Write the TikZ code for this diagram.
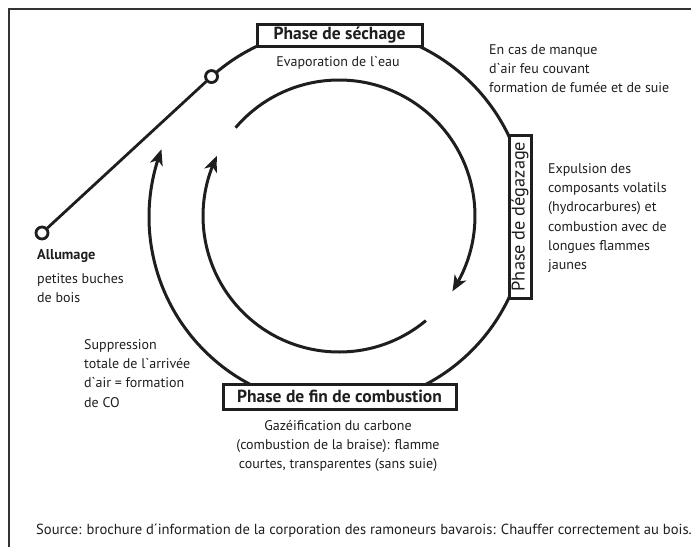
\documentclass[tikz,border=0pt]{standalone}
\usepackage{fontspec}
\setmainfont{PT Sans}
\usetikzlibrary{arrows.meta,bending}
\definecolor{inkc}{HTML}{1E1E1E}
\definecolor{framec}{HTML}{333333}
\begin{document}
\begin{tikzpicture}[x=1pt,y=-1pt,
  ink/.style={draw=inkc, line width=3pt},
  phase/.style={draw=inkc, line width=3pt, fill=white, font=\fontsize{17.5}{20}\selectfont\bfseries, inner sep=0pt, text=inkc},
  body/.style={font=\fontsize{14}{19.3}\selectfont, inner sep=0pt, text=inkc, align=left},
  dot/.style={circle, draw=inkc, line width=2.8pt, fill=white, minimum size=12pt, inner sep=0pt},
  tip/.style={-{Stealth[length=16pt,width=13pt,inset=4.5pt,bend]}}
]
\useasboundingbox (0,0) rectangle (691,547);
\draw[draw=framec, line width=2.5pt] (9,547) -- (9,9) -- (691,9);
\coordinate (C) at (338,217);
\coordinate (Ci) at (339,216);
% outer cycle
\draw[ink, tip] ([shift={(228:189)}]C) arc[start angle=228, end angle=561, radius=189];
% inner cycle
\draw[ink, tip] ([shift={(220.5:136)}]Ci) arc[start angle=220.5, end angle=393.6, radius=136];
\draw[ink, tip] ([shift={(50.3:136)}]Ci) arc[start angle=50.3, end angle=206.2, radius=136];
% ignition line
\node[dot] (sc) at ([shift={(228:189)}]C) {};
\node[dot] (al) at (42,233) {};
\draw[ink, line width=2.8pt] (al) -- (sc);
% phase boxes
\node[phase, minimum width=165pt, minimum height=22pt] (seche) at (339.5,35) {Phase de séchage};
\node[phase, font=\fontsize{18.3}{20}\selectfont, rotate=90, minimum width=163pt, minimum height=22pt] (degaz) at (520,216.5) {Phase de dégazage};
\node[phase, minimum width=233pt, minimum height=25pt] (fin) at (339.5,396.5) {Phase de fin de combustion};
% texts
\node[body] (evap) at (338,63) {Evaporation de l\textasciigrave eau};
\node[body, anchor=north west] (manque) at (489,44) {En cas de manque\\d\textasciigrave air feu couvant\\formation de fumée et de suie};
\node[body, anchor=north west] (expul) at (548,163) {Expulsion des\\composants volatils\\(hydrocarbures) et\\combustion avec de\\longues flammes\\jaunes};
\node[body, font=\fontsize{14.3}{19}\selectfont\bfseries, anchor=west] (allu) at (37,256) {Allumage};
\node[body, anchor=north west] (bois) at (37,273) {petites buches\\de bois};
\node[body, anchor=north west] (suppr) at (84,339) {Suppression\\totale de l\textasciigrave arrivée\\d\textasciigrave air = formation\\de CO};
\node[body, align=center, anchor=north] (gaz) at (338,420) {Gazéification du carbone\\(combustion de la braise): flamme\\courtes, transparentes (sans suie)};
\node[body, font=\fontsize{14.6}{19}\selectfont, anchor=west] (src) at (36,531) {Source: brochure d´information de la corporation des ramoneurs bavarois: Chauffer correctement au bois.};
\end{tikzpicture}
\end{document}
